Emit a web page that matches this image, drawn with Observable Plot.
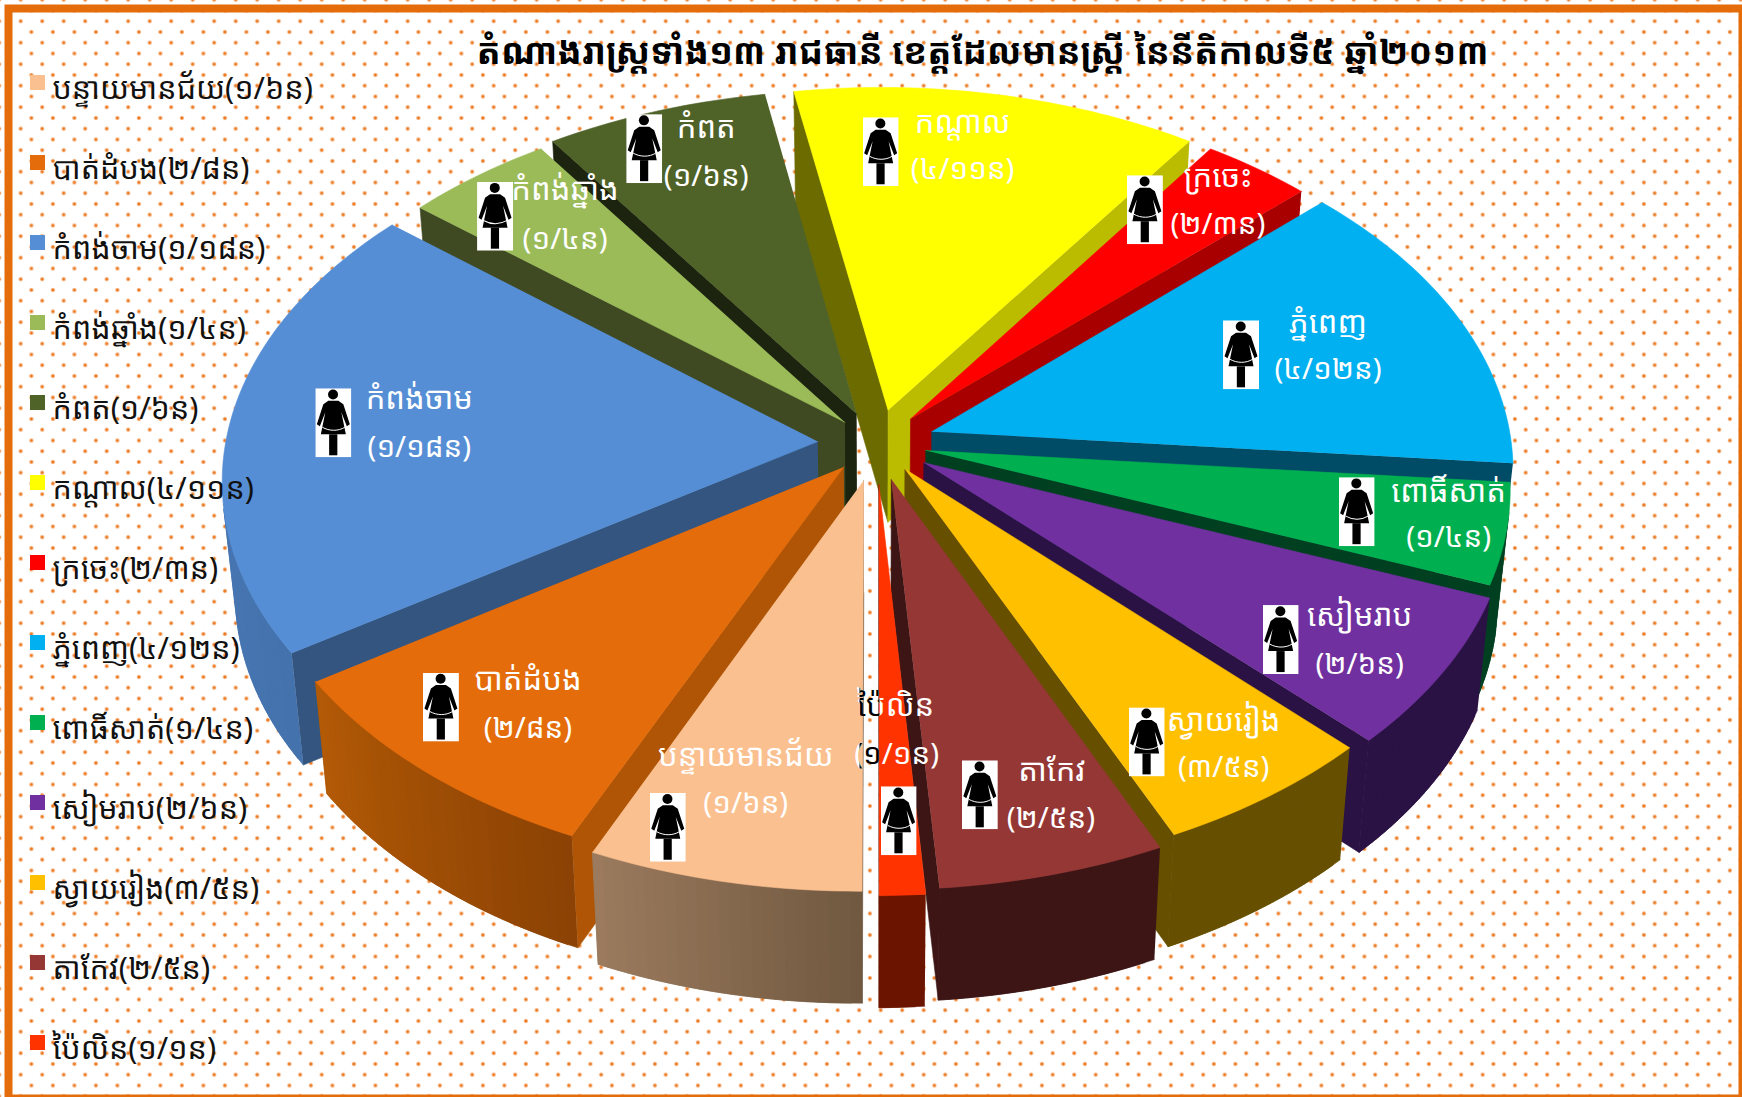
<!DOCTYPE html>
<html><head><meta charset="utf-8">
<script src="https://cdn.jsdelivr.net/npm/d3@7"></script>
<script src="https://cdn.jsdelivr.net/npm/@observablehq/plot@0.6"></script>
<style>
html,body{margin:0;padding:0;width:1742px;height:1097px;overflow:hidden;background-color:#fff;}
body{
 background-image:
  radial-gradient(circle at center,#ec7a22 0,#ec7a22 1.1px,rgba(236,122,34,.3) 2px,transparent 2.6px),
  radial-gradient(circle at center,#ec7a22 0,#ec7a22 1.1px,rgba(236,122,34,.3) 2px,transparent 2.6px);
 background-size:21.5px 21.5px;
 background-position:20.65px 21.25px,9.95px 31.95px;
}
</style></head><body><div id="chart"></div>
<script>
const title = "តំណាងរាស្ត្រទាំង១៣ រាជធានី ខេត្តដែលមានស្ត្រី នៃនីតិកាលទី៥ ឆ្នាំ២០១៣";
const provinces = ["បន្ទាយមានជ័យ","បាត់ដំបង","កំពង់ចាម","កំពង់ឆ្នាំង","កំពត","កណ្តាល","ក្រចេះ","ភ្នំពេញ","ពោធិ៍សាត់","សៀមរាប","ស្វាយរៀង","តាកែវ","ប៉ៃលិន"];
const women = [1,2,1,1,1,4,2,4,1,2,3,2,1];
const seats = [6,8,18,4,6,11,3,12,4,6,5,5,1];
const explosion = [.104,.085,.1,.08,.09,.095,.09,.1,.086,.096,.085,.102,.112];

// styles per slice
const topColor = ["#FBC08F","#E46C0A","#558ED5","#9BBB59","#4F6228","#FFFF00","#FF0000","#00B0F0","#00B050","#7030A0","#FFC000","#953735","#FF3300"];
const wallStart = ["#705840","#B05505","#34557F","#404A22","#1C240F","#6B6B00","#6B0000","#004B66","#004020","#2B1245","#665000","#3D1515","#6B1500"];
const wallEnd   = ["#9C7B5E","#8B4204","#4F7FBF","#404A22","#1C240F","#BBBB00","#A80000","#004B66","#004020","#2B1245","#665000","#3D1515","#6B1500"];
const rimStart  = ["#705840","#8B4204","#4472AC","#404A22","#1C240F","#6B6B00","#A80000","#004B66","#004020","#2B1245","#665000","#3D1515","#6B1500"];
const rimEnd    = ["#9C7B5E","#B35A06","#4F7FBF","#404A22","#1C240F","#BBBB00","#A80000","#004B66","#004020","#2B1245","#665000","#3D1515","#6B1500"];

// label placement, in pixels from each slice's anchor: [dx,dy]
const iconOffset  = [[-113,109],[-145,53],[-122,-8],[-110,-46],[-82,-70],[-79,-55],[8,-47],[-26,-6],[61,7],[36,46],[16,69],[-8,79],[6,96]];
const nameOffset  = [[-35,38],[-58,26],[-36,-32],[-40,-72],[-20,-91],[3,-84],[81,-80],[61,-38],[153,-13],[115,23],[93,48],[64,55],[3,-19]];
const valueOffset = [[-35,85],[-58,74],[-36,17],[-40,-23],[-20,-42],[3,-37],[81,-32],[61,9],[153,33],[115,71],[93,95],[63,103],[4,30]];

const W = 1742, H = 1097;
const Xc = 876, Yc = 443, A = 588, B = 361.5;
const persp = 0.1, tiltRight = 0.012, tiltLeft = 0.006, depthPx = 112, shrink = 0.98, anchorR = 0.72;

const khmer = n => String(n).replace(/\d/g, d => "០១២៣៤៥៦៧៨៩"[d]);
const ratio = i => `(${khmer(women[i])}/${khmer(seats[i])}ន)`;
const fx = px => (px - Xc) / A, fy = py => (py - Yc) / B;

const arcs = d3.pie().sort(null).startAngle(0).endAngle(2 * Math.PI)(seats);
// clockwise from south; u to the right, v towards the viewer
const dir = t => [-Math.sin(t), Math.cos(t)];
const proj = (u, v) => { const w = 1 - persp * v + (u > 0 ? tiltRight : tiltLeft) * u; return {x: u / w, y: v / w}; };
const drop = p => ({x: p.x * shrink, y: p.y + depthPx / B});
const area2 = pts => d3.polygonArea(pts.map(p => [p.x * A, p.y * B]));
const midAngle = i => (arcs[i].startAngle + arcs[i].endAngle) / 2;

const polys = [];
const order = d3.range(seats.length).sort((a, b) => dir(midAngle(a))[1] - dir(midAngle(b))[1]);
const pushPoly = (id, pts, c) => pts.forEach(p => polys.push({id, x: p.x, y: p.y, c}));

const anchors = seats.map((_, i) => {
  const [du, dv] = dir(midAngle(i));
  const w = 1 - persp * dv * anchorR;
  return {x: du * anchorR / w * A + Xc, y: dv * anchorR / w * B + Yc};
});

order.forEach(i => {
  const a = arcs[i], [du, dv] = dir(midAngle(i));
  const ou = du * explosion[i], ov = dv * explosion[i];
  const n = Math.max(2, Math.ceil((a.endAngle - a.startAngle) / (Math.PI / 180)));
  const rim = d3.range(n + 1).map(k => {
    const t = a.startAngle + (a.endAngle - a.startAngle) * k / n;
    const [x, y] = dir(t);
    return proj(ou + x, ov + y);
  });
  const tip = proj(ou, ov);
  const top = [tip, ...rim];
  const sgn = Math.sign(area2(top));
  // a side face is seen when its drop lies outside the top face
  const seen = (p, q) => Math.sign(area2([p, q, drop(q), drop(p)])) !== sgn;
  const quad = (id, p, q, c) => pushPoly(id, [p, q, drop(q), drop(p)], c);
  if (seen(tip, rim[0])) quad(`w0-${i}`, tip, rim[0], wallStart[i]);
  const ramp = d3.interpolateRgb(rimStart[i], rimEnd[i]);
  // each rim piece runs on under the next one, so no seam shows between them
  d3.range(n).forEach(k => {
    if (seen(rim[k], rim[k + 1])) {
      const kk = k + 1 < n && seen(rim[k + 1], rim[k + 2]) ? k + 2 : k + 1;
      quad(`r-${i}-${k}`, rim[k], rim[kk], ramp((k + .5) / n));
    }
  });
  if (seen(rim[n], tip)) quad(`w1-${i}`, rim[n], tip, wallEnd[i]);
  pushPoly(`t-${i}`, top, topColor[i]);
});

const woman = "data:image/svg+xml," + encodeURIComponent(`<svg xmlns="http://www.w3.org/2000/svg" viewBox="0 0 36 69"><rect width="36" height="69" fill="#fff"/><circle cx="17.7" cy="6.2" r="5"/><path d="M13 12.5H23L28 16L34.5 36L31.5 38L26 24L30.5 46H5.5L10 24L4.5 38L1.5 36L8 16Z"/><path d="M7 39C14 43 23 43 29.5 39" stroke="#fff" stroke-width="1" fill="none"/><rect x="13.8" y="46" width="8.2" height="21"/></svg>`);

const font = '"Noto Sans Khmer","Khmer OS","Khmer OS System","Noto Sans","DejaVu Sans",sans-serif';
const idx = d3.range(seats.length);
const at = (i, off) => ({x: fx(anchors[i].x + off[i][0]), y: fy(anchors[i].y + off[i][1] + 1)});
const legendY = i => 82.5 + 80 * i;
const PL = seats.length - 1;

const chart = Plot.plot({
  width: W, height: H, margin: 0,
  x: {domain: [fx(0), fx(W)], range: [0, W], axis: null},
  y: {domain: [fy(0), fy(H)], range: [0, H], axis: null},
  color: {type: "identity"},
  style: {background: "transparent"},
  marks: [
    Plot.line(polys, {x: "x", y: "y", z: "id", fill: "c", stroke: "c", strokeWidth: 0.6, curve: "linear"}),
    Plot.image(idx, {x: i => at(i, iconOffset).x, y: i => at(i, iconOffset).y, width: 36, height: 69, src: () => woman}),
    Plot.text(idx, {x: i => at(i, nameOffset).x, y: i => at(i, nameOffset).y, text: i => provinces[i], fill: "#fff", fontSize: 31, fontFamily: font}),
    Plot.text(idx, {x: i => at(i, valueOffset).x, y: i => at(i, valueOffset).y, text: ratio, fill: "#fff", fontSize: 29.5, fontFamily: font}),
    Plot.text([PL], {x: i => at(i, nameOffset).x, y: i => at(i, nameOffset).y, text: i => provinces[i], fill: "#000", fontSize: 31, fontFamily: font, className: "over-gap"}),
    Plot.text([PL], {x: i => at(i, valueOffset).x, y: i => at(i, valueOffset).y, text: ratio, fill: "#000", fontSize: 29.5, fontFamily: font, className: "over-gap"}),
    Plot.rect(idx, {x1: fx(30), x2: fx(45), y1: i => fy(legendY(i) - 7.5), y2: i => fy(legendY(i) + 7.5), fill: i => topColor[i]}),
    Plot.text(idx, {x: fx(52), y: i => fy(legendY(i) + 6), text: i => provinces[i] + ratio(i), textAnchor: "start", fill: "#111", fontSize: 30.5, fontFamily: font}),
    Plot.text([title], {x: fx(982), y: fy(52), text: d => d, fill: "#000", fontSize: 35.7, fontWeight: "bold", fontFamily: font}),
    Plot.frame({stroke: "#E46C0A", strokeWidth: 8, insetLeft: 8, insetTop: 8, insetRight: 0, insetBottom: -1})
  ]
});
const clip = d3.select(chart).append("defs").append("clipPath").attr("id", "gap");
clip.append("rect").attr("x", 859).attr("y", 0).attr("width", 20).attr("height", H);
d3.select(chart).selectAll(".over-gap").attr("clip-path", "url(#gap)");
document.getElementById("chart").append(chart);
</script></body></html>
